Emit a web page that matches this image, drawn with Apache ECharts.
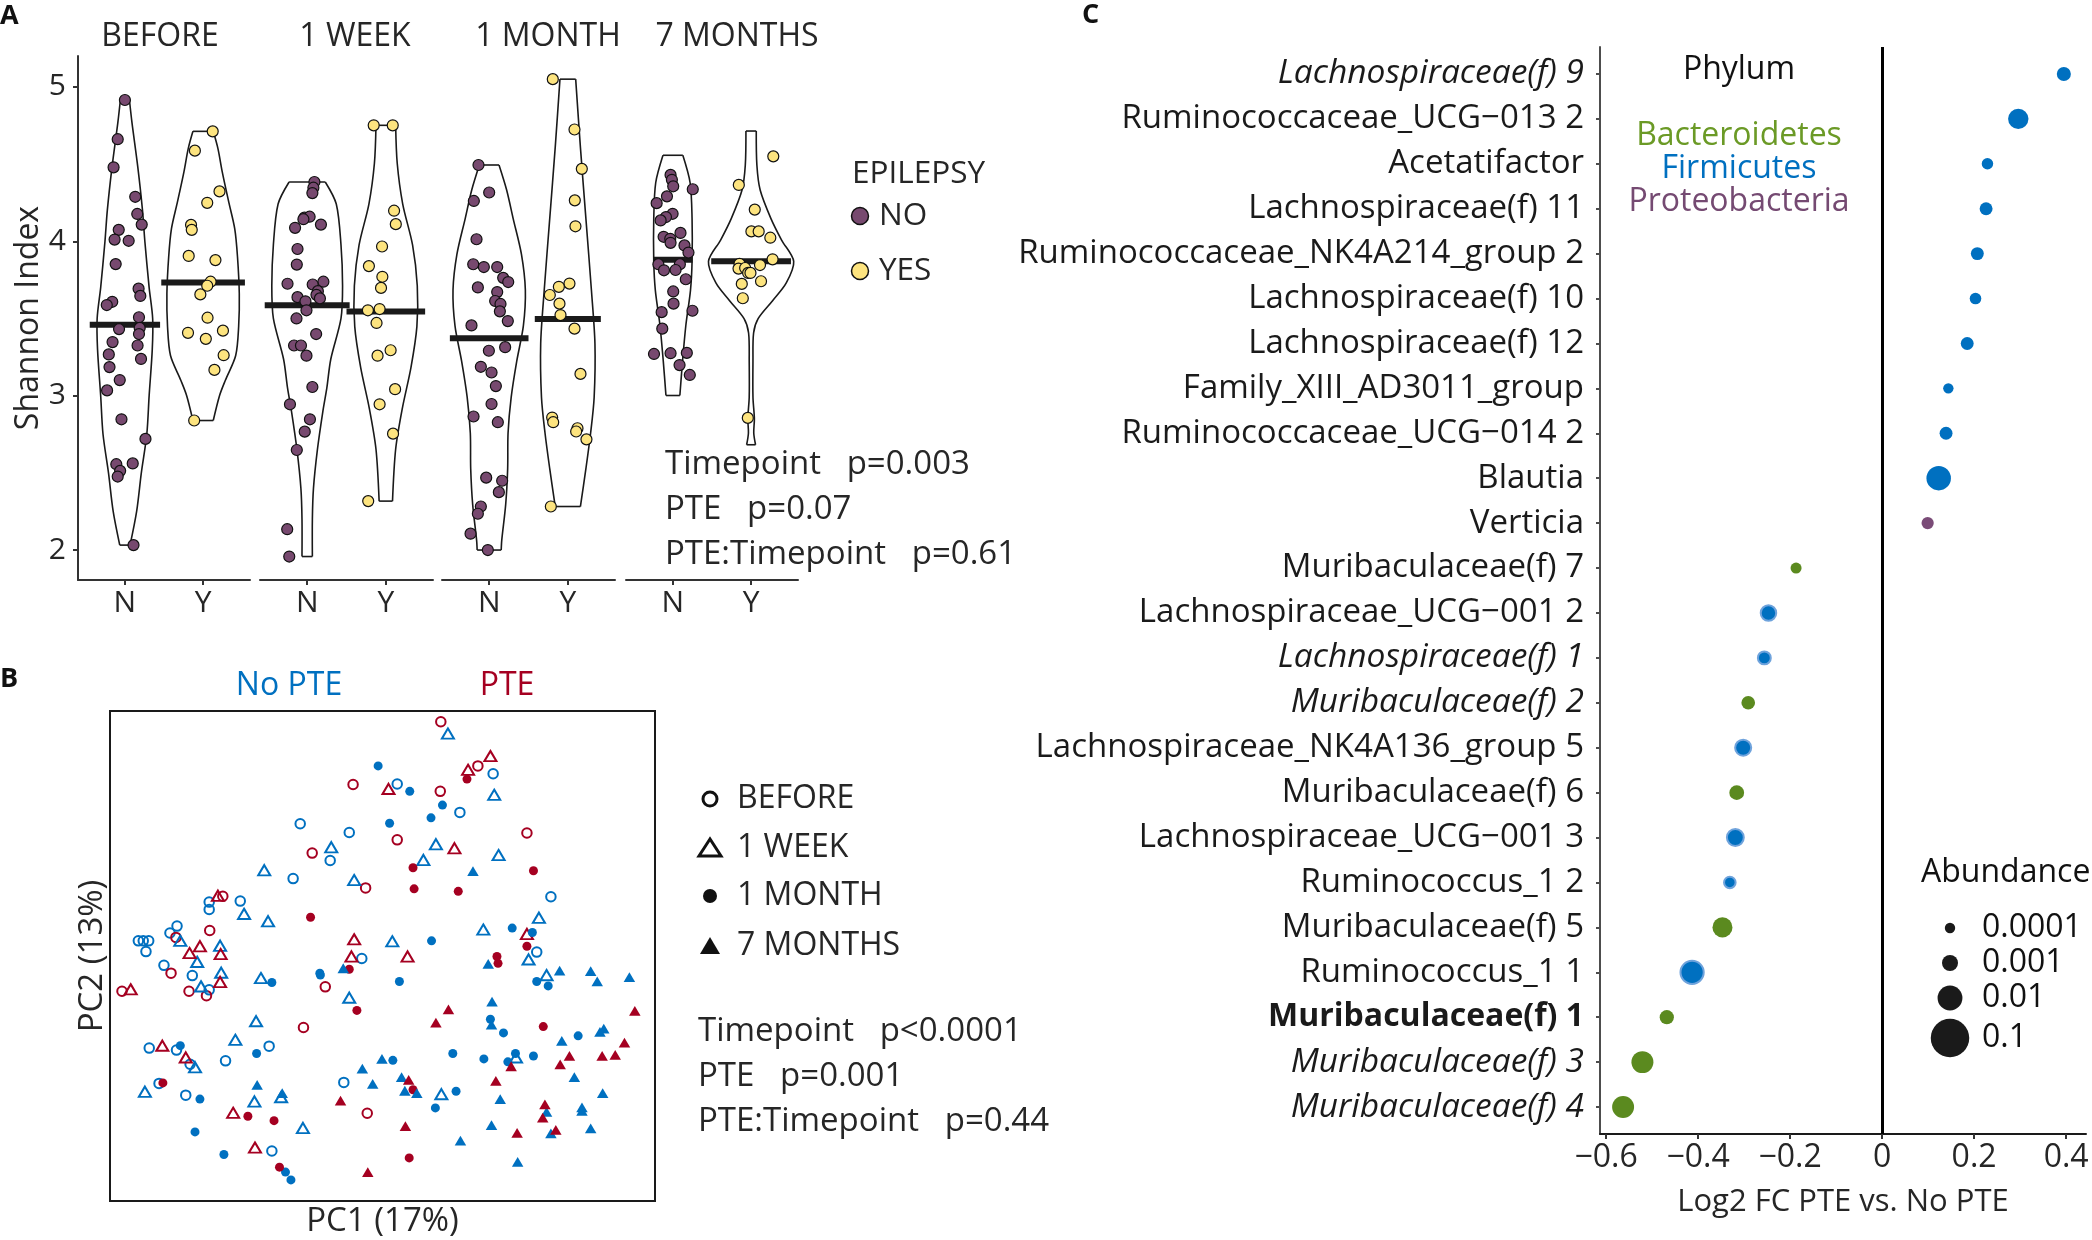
<!DOCTYPE html>
<html><head><meta charset="utf-8">
<script src="https://cdn.jsdelivr.net/npm/echarts@6/dist/echarts.min.js"></script>
<style>html,body{margin:0;padding:0;background:#fff}#c{width:2092px;height:1240px}</style>
</head><body><div id="c"></div>
<script>
// ================= DATA =================
// ---- Panel A: Shannon index, points as [jitter offset, value]
const timepoints = ['BEFORE', '1 WEEK', '1 MONTH', '7 MONTHS'];
const groupTicks = ['N', 'Y'];
const shannonTicks = [2, 3, 4, 5];

const aBeforeNo = [[0,4.915],[-0.092,4.661],[-0.145,4.479],[0.132,4.288],[0.158,4.177],[0.215,4.108],[-0.079,4.074],[-0.132,4.011],[0.048,4.003],[-0.118,3.852],[0.175,3.693],[0.197,3.646],[-0.162,3.608],[-0.232,3.587],[0.18,3.508],[-0.075,3.431],[0.189,3.439],[0.18,3.399],[-0.158,3.347],[0.162,3.325],[-0.206,3.267],[0.206,3.238],[-0.197,3.185],[-0.066,3.101],[-0.228,3.034],[-0.044,2.847],[0.263,2.72],[-0.11,2.556],[0.1,2.561],[-0.061,2.513],[-0.092,2.476],[0.11,2.032]];
const aBeforeYes = [[0.123,4.712],[-0.105,4.587],[0.21,4.323],[0.053,4.249],[-0.154,4.106],[-0.145,4.074],[-0.184,3.905],[0.158,3.878],[0.096,3.738],[0.053,3.712],[-0.035,3.656],[0.057,3.505],[-0.193,3.407],[0.254,3.421],[0.035,3.368],[0.263,3.262],[0.145,3.167],[-0.114,2.839]];
const aWeekNo = [[0.092,4.384],[0.079,4.347],[0.066,4.312],[-0.035,4.153],[0.031,4.159],[-0.048,4.143],[0.175,4.108],[-0.154,4.087],[-0.123,3.95],[-0.132,3.849],[-0.25,3.725],[0.206,3.738],[0.07,3.72],[0.136,3.677],[0.118,3.653],[0.162,3.63],[-0.123,3.638],[-0.022,3.611],[-0.009,3.553],[-0.136,3.5],[0.114,3.399],[-0.167,3.325],[-0.079,3.325],[-0.009,3.259],[0.066,3.056],[-0.219,2.944],[0.035,2.847],[-0.031,2.767],[-0.132,2.648],[-0.254,2.135],[-0.228,1.958]];
const aWeekYes = [[-0.154,4.751],[0.088,4.751],[0.105,4.198],[0.127,4.111],[-0.048,3.966],[-0.215,3.839],[-0.044,3.77],[-0.061,3.698],[-0.228,3.553],[-0.079,3.561],[-0.118,3.471],[0.061,3.294],[-0.105,3.259],[0.118,3.042],[-0.079,2.944],[0.092,2.754],[-0.224,2.317]];
const aMonthNo = [[-0.136,4.494],[0,4.316],[-0.195,4.261],[-0.161,4.013],[-0.203,3.851],[-0.068,3.833],[0.102,3.833],[0.178,3.763],[0.242,3.736],[-0.144,3.701],[0.102,3.671],[0.076,3.613],[0.144,3.594],[0.136,3.546],[0.237,3.483],[-0.225,3.455],[-0.004,3.291],[0.203,3.314],[-0.106,3.187],[0.03,3.15],[0.085,3.062],[0.03,2.946],[-0.199,2.865],[0.11,2.828],[-0.038,2.469],[0.165,2.449],[0.123,2.375],[-0.106,2.282],[-0.144,2.235],[-0.237,2.106],[-0.017,2.0]];
const aMonthYes = [[-0.191,5.05],[0.085,4.724],[0.178,4.469],[0.089,4.265],[0.097,4.097],[0.021,3.726],[-0.114,3.705],[-0.229,3.652],[-0.106,3.596],[-0.093,3.522],[0.085,3.434],[0.161,3.141],[-0.199,2.858],[-0.186,2.828],[0.123,2.789],[0.106,2.768],[0.237,2.717],[-0.216,2.282]];
const a7mNo = [[-0.03,4.43],[-0.013,4.398],[0.004,4.356],[0.254,4.337],[-0.076,4.291],[-0.208,4.247],[-0.004,4.178],[-0.089,4.157],[-0.157,4.135],[0.097,4.054],[-0.119,4.029],[-0.034,4.016],[-0.03,3.99],[0.148,3.973],[0.199,3.927],[-0.186,3.851],[0.089,3.851],[-0.114,3.812],[0.034,3.814],[0.165,3.754],[0.004,3.675],[0.008,3.596],[-0.144,3.541],[0.25,3.55],[-0.136,3.434],[-0.242,3.27],[-0.03,3.275],[0.178,3.277],[0.085,3.198],[0.216,3.134]];
const a7mYes = [[0.284,4.55],[-0.157,4.365],[0.047,4.205],[0.004,4.064],[0.097,4.064],[0.246,4.023],[0.275,3.883],[-0.148,3.854],[0.114,3.846],[-0.161,3.823],[-0.076,3.827],[-0.038,3.795],[-0.008,3.795],[-0.119,3.724],[0.127,3.741],[-0.106,3.631],[-0.042,2.856]];

// violin outlines: [value, half-width in category units]
const vBeforeNo = [[4.915,0.058],[4.77,0.09],[4.48,0.165],[4.2,0.225],[4.0,0.255],[3.7,0.31],[3.5,0.355],[3.3,0.35],[3.0,0.31],[2.75,0.28],[2.5,0.21],[2.25,0.15],[2.032,0.066]];
const vBeforeYes = [[4.712,0.13],[4.6,0.19],[4.45,0.245],[4.25,0.33],[4.08,0.405],[3.9,0.44],[3.66,0.463],[3.45,0.455],[3.26,0.417],[3.1,0.285],[3.0,0.21],[2.839,0.13]];
const vWeekNo = [[4.384,0.23],[4.241,0.37],[3.976,0.43],[3.712,0.45],[3.5,0.43],[3.236,0.3],[3.05,0.25],[2.9,0.2],[2.65,0.13],[2.4,0.08],[2.2,0.066],[1.958,0.066]];
const vWeekYes = [[4.751,0.125],[4.505,0.145],[4.241,0.215],[3.976,0.34],[3.712,0.4],[3.447,0.395],[3.183,0.32],[2.918,0.21],[2.653,0.125],[2.317,0.085]];
const vMonthNo = [[4.494,0.125],[4.332,0.222],[4.147,0.305],[3.916,0.41],[3.684,0.46],[3.453,0.435],[3.222,0.35],[2.99,0.28],[2.758,0.24],[2.527,0.235],[2.296,0.21],[2.064,0.16],[2.0,0.153]];
const vMonthYes = [[5.05,0.1],[4.61,0.16],[4.147,0.23],[3.684,0.3],[3.337,0.345],[2.99,0.335],[2.758,0.29],[2.527,0.23],[2.282,0.16]];
const v7mNo = [[4.557,0.127],[4.379,0.22],[4.147,0.245],[3.87,0.245],[3.684,0.225],[3.453,0.165],[3.222,0.123],[3.001,0.089]];
const v7mYes = [[4.714,0.066],[4.494,0.074],[4.332,0.116],[4.147,0.254],[4.008,0.39],[3.87,0.545],[3.73,0.45],[3.615,0.275],[3.499,0.09],[3.406,0.032],[3.222,0.024],[2.99,0.024],[2.851,0.042],[2.758,0.034],[2.682,0.057]];

// medians: [value, half-width of bar]
const medBefore = [[3.46,0.45],[3.733,0.535]];
const medWeek = [[3.585,0.54],[3.545,0.5]];
const medMonth = [[3.372,0.5],[3.497,0.42]];
const med7m = [[3.881,0.25],[3.87,0.51]];

const aStats = ['Timepoint   p=0.003', 'PTE   p=0.07', 'PTE:Timepoint   p=0.61'];

// ---- Panel B: PCoA scores (PC1, PC2), arbitrary units 0-100
const bBeforeNo = [[34.9,77.0],[43.9,75.2],[40.4,69.5],[33.6,65.8],[18.2,61.0],[18.2,59.5],[23.9,61.2],[12.3,56.1],[11.0,54.7],[5.2,53.1],[6.1,53.1],[7.1,53.1],[6.6,50.9],[70.3,87.2],[52.7,85.1],[64.2,79.3],[80.9,62.1],[78.3,50.8],[9.9,48.1],[15.1,46.0],[18.2,43.1],[46.2,49.5],[7.2,31.2],[12.2,30.8],[29.2,31.6],[21.2,28.6],[14.7,27.9],[42.9,24.2],[9.0,24.0],[13.9,21.6],[29.7,10.2]];
const bBeforePte = [[44.6,85.0],[37.1,71.0],[46.9,63.9],[20.7,62.2],[12.1,53.8],[18.3,55.2],[60.7,97.8],[67.5,88.8],[60.6,83.6],[52.7,73.7],[76.5,75.1],[11.2,46.5],[2.2,42.8],[14.5,42.8],[17.7,41.9],[39.5,43.7],[35.5,35.4],[47.2,17.9]];
const bWeekNo = [[40.6,72.2],[28.3,67.5],[44.8,65.5],[24.6,58.6],[29.0,57.1],[12.9,53.1],[20.2,52.1],[62.0,95.4],[70.5,82.9],[59.8,72.8],[71.3,70.6],[57.5,69.6],[78.7,57.8],[68.5,55.4],[51.8,53.0],[76.8,49.3],[80.1,46.1],[16.0,48.8],[20.4,46.6],[27.7,45.5],[16.7,43.8],[43.9,41.5],[26.8,36.7],[23.0,32.9],[15.6,27.3],[6.4,22.3],[31.4,21.2],[26.5,20.3],[35.4,14.9],[74.5,29.3],[60.8,21.8]];
const bWeekPte = [[19.8,62.3],[16.5,52.0],[44.8,53.4],[69.8,90.8],[65.7,88.0],[51.1,84.1],[63.2,72.0],[76.5,54.5],[14.6,50.6],[20.3,50.4],[20.2,44.7],[3.8,43.2],[44.3,49.9],[9.6,31.7],[13.9,29.3],[22.6,18.0],[26.6,10.9],[54.6,49.9]];
const bMonthNo = [[49.2,88.8],[55.0,83.6],[61.0,80.8],[58.9,78.2],[51.3,77.1],[73.8,55.7],[77.5,54.8],[59.0,53.1],[29.7,44.6],[38.5,46.5],[38.6,46.1],[12.9,31.7],[26.9,30.1],[16.5,20.8],[15.6,14.1],[20.9,9.5],[32.2,5.9],[33.2,4.3],[53.1,44.8],[78.3,44.8],[80.4,43.9],[69.8,37.1],[72.2,34.3],[85.9,33.7],[51.9,28.7],[62.9,30.1],[68.6,29.0],[73.0,28.4],[74.4,30.1],[77.7,29.6],[63.5,22.4],[59.7,19.0]];
const bMonthPte = [[36.8,57.9],[65.5,86.1],[55.6,68.0],[77.7,67.4],[55.8,63.7],[63.9,63.2],[76.5,52.0],[43.9,47.3],[45.3,38.9],[9.7,24.1],[25.3,17.3],[30.1,16.4],[31.1,6.9],[71.0,49.9],[71.2,48.5],[79.5,35.6],[55.6,22.7],[54.9,8.8]];
const b7mNo = [[66.6,67.3],[42.8,47.5],[46.3,27.0],[48.2,23.9],[27.0,23.7],[31.6,22.0],[69.4,48.4],[82.5,47.0],[88.2,46.9],[89.4,44.8],[95.3,45.7],[70.1,40.7],[70.0,36.0],[82.9,32.7],[89.9,34.5],[90.6,35.2],[49.9,29.0],[85.2,25.3],[53.5,25.3],[54.1,22.5],[56.3,22.0],[71.6,20.8],[90.4,22.0],[80.1,18.2],[86.6,19.1],[86.6,18.4],[70.0,15.5],[80.9,13.8],[88.2,14.8],[64.3,12.3],[74.8,8.0]];
const b7mPte = [[42.3,20.5],[47.3,5.9],[62.1,39.1],[59.8,36.4],[96.3,38.8],[94.4,32.3],[73.6,27.5],[82.6,27.9],[84.3,29.6],[90.3,29.6],[92.7,29.8],[54.8,24.7],[70.8,24.5],[79.8,19.7],[79.4,17.0],[54.2,15.3],[74.7,13.9],[81.8,14.5]];
const bStats = ['Timepoint   p<0.0001', 'PTE   p=0.001', 'PTE:Timepoint   p=0.44'];

// ---- Panel C: differential abundance
const taxa = ['Lachnospiraceae(f) 9','Ruminococcaceae_UCG\u2212013 2','Acetatifactor','Lachnospiraceae(f) 11','Ruminococcaceae_NK4A214_group 2','Lachnospiraceae(f) 10','Lachnospiraceae(f) 12','Family_XIII_AD3011_group','Ruminococcaceae_UCG\u2212014 2','Blautia','Verticia','Muribaculaceae(f) 7','Lachnospiraceae_UCG\u2212001 2','Lachnospiraceae(f) 1','Muribaculaceae(f) 2','Lachnospiraceae_NK4A136_group 5','Muribaculaceae(f) 6','Lachnospiraceae_UCG\u2212001 3','Ruminococcus_1 2','Muribaculaceae(f) 5','Ruminococcus_1 1','Muribaculaceae(f) 1','Muribaculaceae(f) 3','Muribaculaceae(f) 4'];
const log2fc = [0.395,0.296,0.229,0.226,0.207,0.203,0.185,0.144,0.139,0.123,0.099,-0.187,-0.247,-0.256,-0.291,-0.302,-0.316,-0.319,-0.331,-0.347,-0.413,-0.468,-0.521,-0.563];
const abundance = [0.0005,0.0035,0.00017,0.00032,0.00032,0.00018,0.00032,0.0001,0.00032,0.0092,0.00024,0.00014,0.00083,0.00032,0.00042,0.001,0.00065,0.0013,0.00018,0.0032,0.007,0.00053,0.0052,0.0052];
const phylum = ['Firmicutes','Firmicutes','Firmicutes','Firmicutes','Firmicutes','Firmicutes','Firmicutes','Firmicutes','Firmicutes','Firmicutes','Proteobacteria','Bacteroidetes','Firmicutes','Firmicutes','Bacteroidetes','Firmicutes','Bacteroidetes','Firmicutes','Firmicutes','Bacteroidetes','Firmicutes','Bacteroidetes','Bacteroidetes','Bacteroidetes'];
const fcTicks = [-0.6, -0.4, -0.2, 0, 0.2, 0.4];
const phylumNames = ['Bacteroidetes', 'Firmicutes', 'Proteobacteria'];
const abundanceBreaks = [0.0001, 0.001, 0.01, 0.1];

// ================= STYLE =================
const FONT = "'Open Sans', sans-serif";
const TXT = '#262626';
const NO_COL = '#77496F', YES_COL = '#FDE47F';
const BLUE = '#0070C0', RED = '#A50021';
const phylumColor = {Bacteroidetes: '#5B8A1F', Firmicutes: '#0070C0', Proteobacteria: '#7A4B77'};
const phylumTextColor = {Bacteroidetes: '#6B9A26', Firmicutes: '#0070C0', Proteobacteria: '#754A72'};
const italicTaxa = new Set([0, 13, 14, 22, 23]);
const boldTaxa = new Set([21]);
const ringedTaxa = new Set([12, 13, 15, 17, 18, 20]);
const sizeOf = v => 38.5 * Math.pow(v / 0.1, 0.19);

// ================= BUILD =================
const aPoints = [[aBeforeNo, aBeforeYes], [aWeekNo, aWeekYes], [aMonthNo, aMonthYes], [a7mNo, a7mYes]];
const aViolins = [[vBeforeNo, vBeforeYes], [vWeekNo, vWeekYes], [vMonthNo, vMonthYes], [v7mNo, v7mYes]];
const aMedians = [medBefore, medWeek, medMonth, med7m];
const facetLeft = [78, 260, 442, 626];
const facetWidth = [172, 173, 173, 172];

const grids = [], xAxes = [], yAxes = [], series = [];
const axisLineStyle = {color: '#333', width: 2};

for (let t = 0; t < 4; t++) {
  grids.push({left: facetLeft[t], top: 56, width: facetWidth[t], height: 524});
  xAxes.push({
    type: 'value', gridIndex: t, min: 0.4, max: 2.6,
    axisLine: {show: true, onZero: false, lineStyle: axisLineStyle},
    axisTick: {show: true, customValues: [1, 2], length: 5, lineStyle: axisLineStyle},
    axisLabel: {customValues: [1, 2], formatter: v => groupTicks[Math.round(v) - 1], fontSize: 30, fontFamily: FONT, color: TXT, margin: 8},
    splitLine: {show: false}
  });
  yAxes.push({
    type: 'value', gridIndex: t, min: 1.806, max: 5.2, show: t === 0,
    axisLine: {show: true, onZero: false, lineStyle: axisLineStyle},
    axisTick: {show: true, customValues: shannonTicks, length: 5, lineStyle: axisLineStyle},
    axisLabel: {customValues: shannonTicks, formatter: v => String(v), fontSize: 30, fontFamily: FONT, color: TXT, margin: 12},
    splitLine: {show: false},
    name: t === 0 ? 'Shannon Index' : '', nameLocation: 'middle', nameGap: 27,
    nameTextStyle: {fontSize: 32, fontFamily: FONT, color: TXT}
  });
  const profiles = aViolins[t];
  series.push({
    type: 'custom', xAxisIndex: t, yAxisIndex: t, z: 1, silent: true,
    data: [[1], [2]],
    renderItem: (params, api) => {
      const c = api.value(0);
      const prof = profiles[params.dataIndex];
      const right = prof.map(p => api.coord([c + p[1], p[0]]));
      const left = prof.map(p => api.coord([c - p[1], p[0]]));
      const st = {stroke: '#1a1a1a', lineWidth: 1.6, fill: null};
      const last = prof.length - 1;
      return {type: 'group', children: [
        {type: 'polyline', shape: {points: right, smooth: 0.3}, style: st},
        {type: 'polyline', shape: {points: left, smooth: 0.3}, style: st},
        {type: 'line', shape: {x1: left[0][0], y1: left[0][1], x2: right[0][0], y2: right[0][1]}, style: st},
        {type: 'line', shape: {x1: left[last][0], y1: left[last][1], x2: right[last][0], y2: right[last][1]}, style: st}
      ]};
    }
  });
  const meds = aMedians[t];
  series.push({
    type: 'custom', xAxisIndex: t, yAxisIndex: t, z: 2, silent: true,
    data: [[1, meds[0][0], meds[0][1]], [2, meds[1][0], meds[1][1]]],
    renderItem: (params, api) => {
      const a = api.coord([api.value(0) - api.value(2), api.value(1)]);
      const b = api.coord([api.value(0) + api.value(2), api.value(1)]);
      return {type: 'line', shape: {x1: a[0], y1: a[1], x2: b[0], y2: b[1]}, style: {stroke: '#1a1a1a', lineWidth: 6}};
    }
  });
  [0, 1].forEach(g => {
    series.push({
      type: 'scatter', xAxisIndex: t, yAxisIndex: t, z: 3, silent: true,
      symbol: 'circle', symbolSize: 11,
      itemStyle: {color: g === 0 ? NO_COL : YES_COL, borderColor: '#111', borderWidth: 1.2, opacity: 1},
      data: aPoints[t][g].map(p => [g + 1 + p[0], p[1]])
    });
  });
}

// Panel B
grids.push({left: 110, top: 711, width: 545, height: 490, show: true, borderColor: '#1a1a1a', borderWidth: 2, backgroundColor: 'transparent'});
xAxes.push({type: 'value', gridIndex: 4, min: 0, max: 100, axisLine: {show: false, onZero: false}, axisTick: {show: false}, axisLabel: {show: false}, splitLine: {show: false},
  name: 'PC1 (17%)', nameLocation: 'middle', nameGap: 4, nameTextStyle: {fontSize: 33, fontFamily: FONT, color: TXT, verticalAlign: 'top'}});
yAxes.push({type: 'value', gridIndex: 4, min: 0, max: 100, axisLine: {show: false, onZero: false}, axisTick: {show: false}, axisLabel: {show: false}, splitLine: {show: false},
  name: 'PC2 (13%)', nameLocation: 'middle', nameGap: 1, nameTextStyle: {fontSize: 33, fontFamily: FONT, color: TXT}});
const bGroups = [
  [bBeforeNo, BLUE, 'circle', false, 9.5], [bBeforePte, RED, 'circle', false, 9.5],
  [bWeekNo, BLUE, 'triangle', false, 12], [bWeekPte, RED, 'triangle', false, 12],
  [bMonthNo, BLUE, 'circle', true, 9], [bMonthPte, RED, 'circle', true, 9],
  [b7mNo, BLUE, 'triangle', true, 11.5], [b7mPte, RED, 'triangle', true, 11.5]
];
bGroups.forEach(([d, col, sym, filled, sz]) => {
  series.push({
    type: 'scatter', xAxisIndex: 4, yAxisIndex: 4, silent: true, symbol: sym, symbolSize: sym === 'triangle' ? [sz, sz * 0.85] : sz,
    itemStyle: filled ? {color: col, opacity: 1} : {color: 'rgba(255,255,255,0)', borderColor: col, borderWidth: 2, opacity: 1},
    data: d
  });
});

// Panel C
grids.push({left: 1600, top: 47, width: 486, height: 1087});
xAxes.push({
  type: 'value', gridIndex: 5, min: -0.6132, max: 0.4432,
  axisLine: {show: true, onZero: false, lineStyle: {color: '#1a1a1a', width: 2}},
  axisTick: {show: true, customValues: fcTicks, length: 5, lineStyle: {color: '#333', width: 2}},
  axisLabel: {customValues: fcTicks, formatter: v => v === 0 ? '0' : (v < 0 ? '\u2212' : '') + Math.abs(v).toFixed(1), fontSize: 32, fontFamily: FONT, color: TXT, margin: 8},
  splitLine: {show: false},
  name: 'Log2 FC PTE vs. No PTE', nameLocation: 'middle', nameGap: 53, nameTextStyle: {fontSize: 31, fontFamily: FONT, color: TXT}
});
const taxIdx = taxa.map((_, i) => i);
const richBase = {fontSize: 33, fontFamily: FONT, color: '#1a1a1a'};
yAxes.push({
  type: 'value', gridIndex: 5, inverse: true, min: -0.6, max: 23.6,
  axisLine: {show: true, onZero: false, lineStyle: {color: '#4d4d4d', width: 2}},
  axisTick: {show: true, customValues: taxIdx, length: 4, lineStyle: {color: '#4d4d4d', width: 2}},
  axisLabel: {customValues: taxIdx, margin: 16,
    formatter: v => { const i = Math.round(v); const s = italicTaxa.has(i) ? 'it' : (boldTaxa.has(i) ? 'b' : 'n'); return '{' + s + '|' + taxa[i] + '}'; },
    rich: {n: richBase, it: Object.assign({}, richBase, {fontStyle: 'italic', fontSize: 33.5}), b: Object.assign({}, richBase, {fontWeight: 'bold', fontSize: 32})}},
  splitLine: {show: false}
});
series.push({
  type: 'scatter', xAxisIndex: 5, yAxisIndex: 5, silent: true, z: 3, symbol: 'circle',
  symbolSize: (val, p) => sizeOf(abundance[p.dataIndex]),
  data: taxa.map((n, i) => ({
    value: [log2fc[i], i],
    itemStyle: ringedTaxa.has(i)
      ? {color: phylumColor[phylum[i]], borderColor: '#6FA3DC', borderWidth: 2, opacity: 1}
      : {color: phylumColor[phylum[i]], opacity: 1}
  })),
  markLine: {silent: true, symbol: 'none', label: {show: false}, lineStyle: {color: '#000', width: 3, type: 'solid'}, data: [{xAxis: 0}]}
});

// ---- Graphic text / legends
const g = [];
const T = (x, y, text, o) => g.push(Object.assign({type: 'text', x, y, silent: true, style: Object.assign({text, fontSize: 32, fontFamily: FONT, fill: TXT, align: 'left', verticalAlign: 'middle'}, o || {})}));
T(0, 16, 'A', {fontSize: 27, fontWeight: 'bold', fill: '#111'});
T(0, 679, 'B', {fontSize: 27, fontWeight: 'bold', fill: '#111'});
T(1082, 15, 'C', {fontSize: 27, fontWeight: 'bold', fill: '#111'});
const facetTitleX = [160, 355, 548, 737];
timepoints.forEach((s, i) => T(facetTitleX[i], 37, s, {align: 'center'}));
T(852, 174, 'EPILEPSY', {fontSize: 31.5});
g.push({type: 'circle', silent: true, shape: {cx: 860, cy: 216, r: 8.5}, style: {fill: NO_COL, stroke: '#111', lineWidth: 1.5}});
g.push({type: 'circle', silent: true, shape: {cx: 860, cy: 271, r: 8.5}, style: {fill: YES_COL, stroke: '#111', lineWidth: 1.5}});
T(879, 216, 'NO', {fontSize: 31.5});
T(879, 271, 'YES', {fontSize: 31.5});
aStats.forEach((s, i) => T(665, 465 + 45 * i, s, {fontSize: 33}));
T(289, 686, 'No PTE', {align: 'center', fill: BLUE});
T(507, 686, 'PTE', {align: 'center', fill: RED});
const bLegY = [799, 848, 896, 946];
['BEFORE', '1 WEEK', '1 MONTH', '7 MONTHS'].forEach((s, i) => T(737, bLegY[i], s, {fontSize: 32}));
g.push({type: 'circle', silent: true, shape: {cx: 710, cy: bLegY[0], r: 7}, style: {fill: null, stroke: '#111', lineWidth: 3}});
g.push({type: 'polygon', silent: true, shape: {points: [[710, bLegY[1] - 9], [699, bLegY[1] + 8], [721, bLegY[1] + 8]]}, style: {fill: null, stroke: '#111', lineWidth: 3}});
g.push({type: 'circle', silent: true, shape: {cx: 710, cy: bLegY[2], r: 7}, style: {fill: '#111'}});
g.push({type: 'polygon', silent: true, shape: {points: [[710, bLegY[3] - 9], [700, bLegY[3] + 8], [720, bLegY[3] + 8]]}, style: {fill: '#111'}});
bStats.forEach((s, i) => T(698, 1032 + 45 * i, s, {fontSize: 33}));
T(1739, 70, 'Phylum', {align: 'center', fill: '#111'});
phylumNames.forEach((s, i) => T(1739, 136 + 33 * i, s, {align: 'center', fill: phylumTextColor[s]}));
T(1921, 873, 'Abundance', {fill: '#111'});
const abY = [928, 963, 998, 1038];
abundanceBreaks.forEach((v, i) => {
  g.push({type: 'circle', silent: true, shape: {cx: 1950, cy: abY[i], r: sizeOf(v) / 2}, style: {fill: '#1a1a1a'}});
  T(1982, abY[i], String(v), {fill: '#111'});
});

const chart = echarts.init(document.getElementById('c'), null, {renderer: 'canvas'});
chart.setOption({
  animation: false, backgroundColor: '#fff',
  textStyle: {fontFamily: FONT},
  grid: grids, xAxis: xAxes, yAxis: yAxes, series, graphic: g
});
</script>
</body></html>
